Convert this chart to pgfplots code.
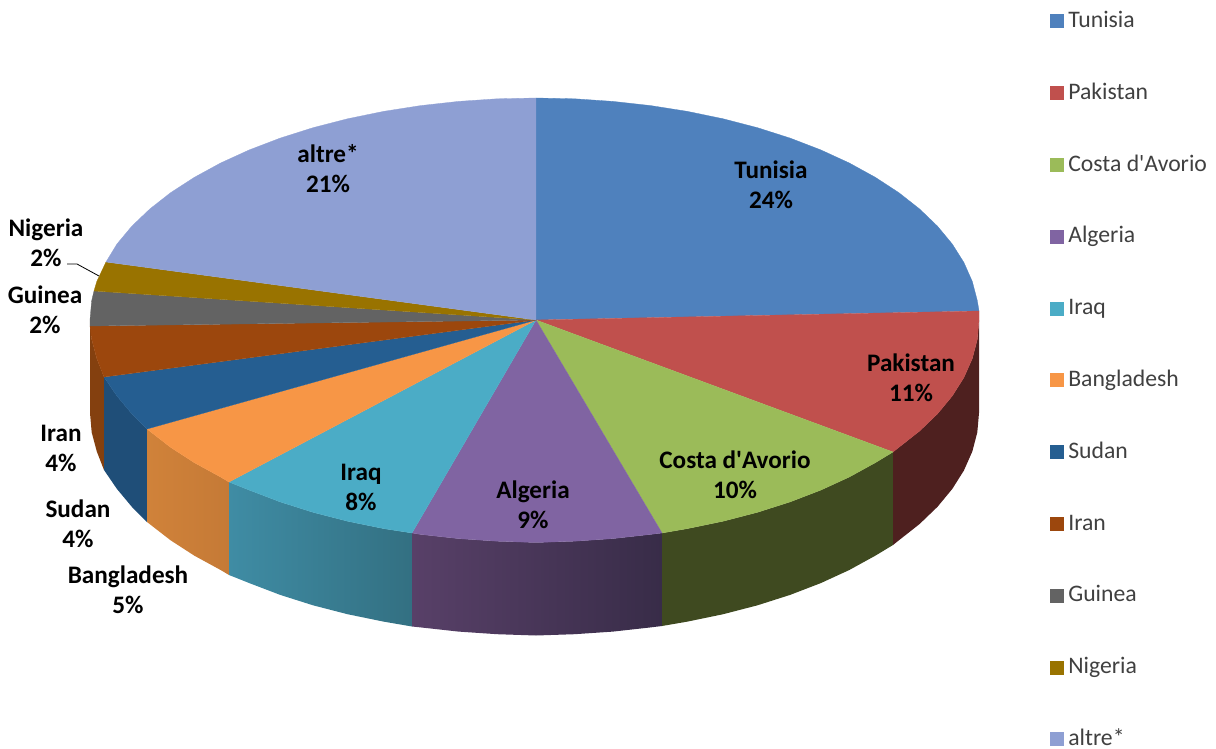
\documentclass[border=0pt]{standalone}
\usepackage{pgfplots}
\pgfplotsset{compat=1.18}
\usepackage{fontspec}
\setmainfont{Carlito}
\definecolor{cTun}{HTML}{4F81BD}
\definecolor{cPak}{HTML}{C0504D}
\definecolor{cCos}{HTML}{9BBB59}
\definecolor{cAlg}{HTML}{8064A2}
\definecolor{cIrq}{HTML}{4BACC6}
\definecolor{cBan}{HTML}{F79646}
\definecolor{cSud}{HTML}{255E91}
\definecolor{cIrn}{HTML}{9C470D}
\definecolor{cGui}{HTML}{636363}
\definecolor{cNig}{HTML}{997300}
\definecolor{cAlt}{HTML}{8E9FD3}
\definecolor{lblleg}{HTML}{404040}
\newcommand{\aps}{\XeTeXglyph\XeTeXcharglyph"27 }
\newcommand{\lab}[3]{\node[align=center,inner sep=0pt,font=\fontsize{25.2}{30}\selectfont\bfseries] at (axis cs:#1,#2) {#3};}
\pgfplotsset{
  sq/.style={draw=#1,fill=#1,line width=0.3pt,area legend,
    legend image code/.code={\fill[#1] (0pt,-6.5pt) rectangle (13pt,6.5pt);}},
  side/.style={draw=none,forget plot}
}
\begin{document}
\begin{tikzpicture}
\useasboundingbox (0,0) rectangle (1216pt,749pt);
\begin{axis}[
  at={(0,0)},anchor=south west,
  scale only axis, width=1216pt, height=749pt,
  xmin=0, xmax=1216, ymin=0, ymax=749, y dir=reverse,
  hide axis, clip=false,
  legend cell align=left,
  legend style={at={(axis cs:1050,11.5)},anchor=north west,draw=none,fill=none,
    inner sep=0pt,outer sep=0pt,row sep=52.8pt,
    font=\fontsize{23.7}{26}\selectfont\color{lblleg},
    nodes={text height=16pt,text depth=3pt,inner sep=0pt,outer sep=0pt,anchor=west},
    column sep=5pt}
]
% side walls
\addplot[side,fill={rgb,255:red,132;green,64;blue,15}] coordinates {(104,377)(96.8,358.5)(91.7,339.4)(90,320)(90,413)(91.7,432.4)(96.8,451.5)(104,470)};
\addplot[side,fill={rgb,255:red,31;green,78;blue,120}] coordinates {(147,429)(131.8,413.8)(116.9,395.9)(104,377)(104,470)(116.9,488.9)(131.8,506.8)(147,522)};
\addplot[side,left color={rgb,255:red,208;green,130;blue,58},right color={rgb,255:red,197;green,122;blue,54}] coordinates {(229,482)(220.6,477)(194.4,462.7)(170.6,447.3)(147,429)(147,522)(170.6,540.3)(194.4,555.7)(220.6,570)(229,575)};
\addplot[side,left color={rgb,255:red,63;green,140;blue,164},right color={rgb,255:red,51;green,112;blue,130}] coordinates {(412,533)(383.5,528.6)(347.5,521.2)(313,512.3)(280.2,501.9)(249.3,490.1)(229,482)(229,575)(249.3,583.1)(280.2,594.9)(313,605.3)(347.5,614.2)(383.5,621.6)(412,626.5)};
\addplot[side,left color={rgb,255:red,88;green,64;blue,104},right color={rgb,255:red,56;green,44;blue,72}] coordinates {(662,533)(650.7,534.4)(612.9,538.6)(574.6,541.2)(536,542.5)(497.1,541.2)(458.6,538.6)(420.6,534.4)(412,533)(412,626.5)(420.6,627.4)(458.6,631.6)(497.1,634.2)(536,635.5)(574.6,634.2)(612.9,631.6)(650.7,627.4)(662,626)};
\addplot[side,fill={rgb,255:red,63;green,74;blue,32}] coordinates {(893,452)(875.3,462.7)(849.3,477)(820.8,490.1)(790.1,501.9)(757.5,512.3)(723.2,521.2)(687.5,528.6)(662,533)(662,626)(687.5,621.6)(723.2,614.2)(757.5,605.3)(790.1,594.9)(820.8,583.1)(849.3,570)(875.3,555.7)(893,545)};
\addplot[side,fill={rgb,255:red,78;green,32;blue,31}] coordinates {(979,320)(977.3,339.4)(972.3,358.5)(963.9,377.5)(952.3,395.9)(937.5,413.8)(919.6,431)(898.9,447.3)(893,452)(893,545)(898.9,540.3)(919.6,524)(937.5,506.8)(952.3,488.9)(963.9,470.5)(972.3,451.5)(977.3,432.4)(979,413)};
% top faces, one per series
\addplot[sq=cTun] coordinates {(536,320)(536,98)(574.6,98.8)(612.9,101.4)(650.7,105.6)(687.5,111.4)(723.2,118.8)(757.5,127.7)(790.1,138.1)(820.8,149.9)(849.3,163)(875.3,177.3)(898.9,192.7)(919.6,209)(937.5,226.2)(952.3,244.1)(963.9,262.5)(972.3,281.5)(977.3,300.6)(979,311)};
\addlegendentry{Tunisia}
\addplot[sq=cPak] coordinates {(536,320)(979,311)(979,320)(977.3,339.4)(972.3,358.5)(963.9,377.5)(952.3,395.9)(937.5,413.8)(919.6,431)(898.9,447.3)(893,452)};
\addlegendentry{Pakistan}
\addplot[sq=cCos] coordinates {(536,320)(893,452)(875.3,462.7)(849.3,477)(820.8,490.1)(790.1,501.9)(757.5,512.3)(723.2,521.2)(687.5,528.6)(662,533)};
\addlegendentry{Costa d\aps Avorio}
\addplot[sq=cAlg] coordinates {(536,320)(662,533)(650.7,534.4)(612.9,538.6)(574.6,541.2)(536,542.5)(497.1,541.2)(458.6,538.6)(420.6,534.4)(412,533)};
\addlegendentry{Algeria}
\addplot[sq=cIrq] coordinates {(536,320)(412,533)(383.5,528.6)(347.5,521.2)(313,512.3)(280.2,501.9)(249.3,490.1)(229,482)};
\addlegendentry{Iraq}
\addplot[sq=cBan] coordinates {(536,320)(229,482)(220.6,477)(194.4,462.7)(170.6,447.3)(147,429)};
\addlegendentry{Bangladesh}
\addplot[sq=cSud] coordinates {(536,320)(147,429)(131.8,413.8)(116.9,395.9)(104,377)};
\addlegendentry{Sudan}
\addplot[sq=cIrn] coordinates {(536,320)(104,377)(96.8,358.5)(91.7,339.4)(90,326)};
\addlegendentry{Iran}
\addplot[sq=cGui] coordinates {(536,320)(90,326)(90,320)(91.7,300.6)(94,291)};
\addlegendentry{Guinea}
\addplot[sq=cNig] coordinates {(536,320)(94,291)(96.8,281.5)(106,262)};
\addlegendentry{Nigeria}
\addplot[sq=cAlt] coordinates {(536,320)(106,262)(116.9,244.1)(131.8,226.2)(149.8,209)(170.6,192.7)(194.4,177.3)(220.6,163)(249.3,149.9)(280.2,138.1)(313,127.7)(347.5,118.8)(383.5,111.4)(420.6,105.6)(458.6,101.4)(497.1,98.8)(536,98)};
\addlegendentry{altre*}
% leader line
\addplot[forget plot,black,line width=0.8pt] coordinates {(67,264)(77,264)(99,276)};
% labels
\lab{771}{185}{Tunisia\\24\%}
\lab{328}{169}{altre*\\21\%}
\lab{911}{378}{Pakistan\\11\%}
\lab{735}{475}{Costa d\aps Avorio\\10\%}
\lab{533}{505}{Algeria\\9\%}
\lab{361}{487}{Iraq\\8\%}
\lab{128}{590}{Bangladesh\\5\%}
\lab{78}{524}{Sudan\\4\%}
\lab{61}{448}{Iran\\4\%}
\lab{45}{310}{Guinea\\2\%}
\lab{46}{243}{Nigeria\\2\%}
\end{axis}
\end{tikzpicture}
\end{document}
